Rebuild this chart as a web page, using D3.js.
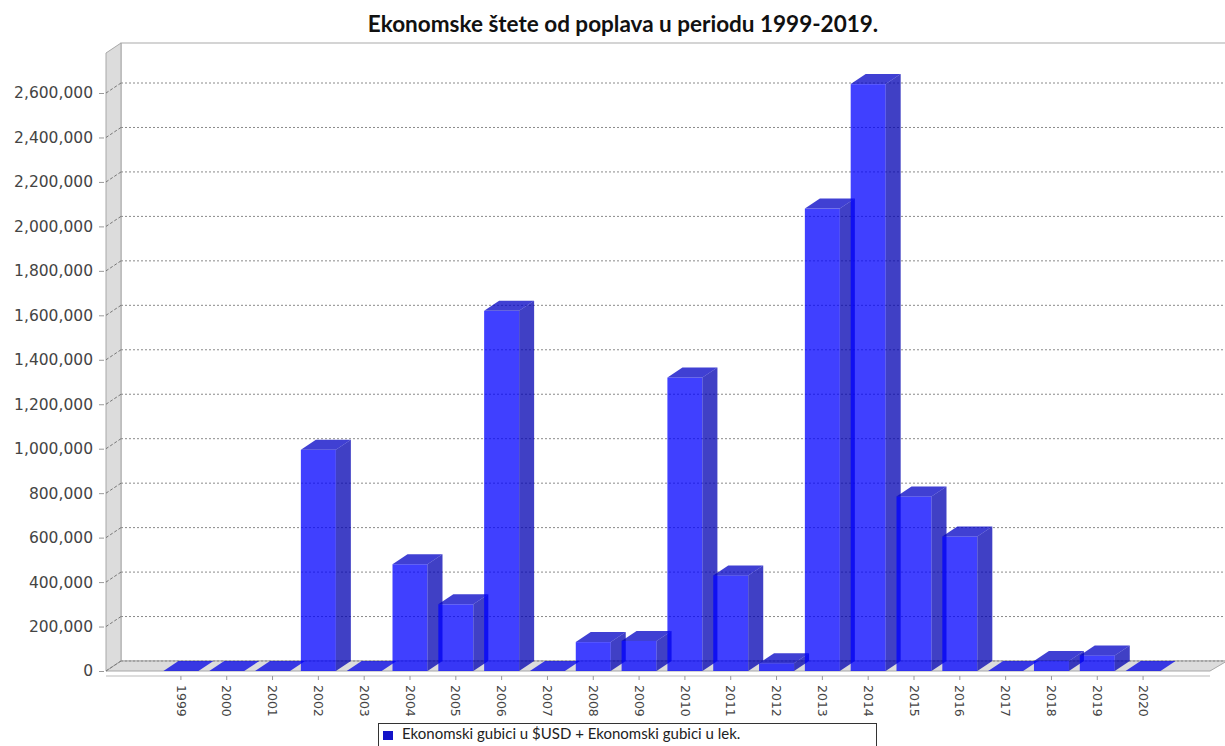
<!DOCTYPE html>
<html>
<head>
<meta charset="utf-8">
<script src="https://cdn.jsdelivr.net/npm/d3@7"></script>
<style>
  body { margin: 0; background: #fff; }
  svg { display: block; }
</style>
</head>
<body>
<svg id="chart" width="1225" height="746"></svg>
<script>
// data
const years = ['1999', '2000', '2001', '2002', '2003', '2004', '2005', '2006', '2007', '2008', '2009',
  '2010', '2011', '2012', '2013', '2014', '2015', '2016', '2017', '2018', '2019', '2020'];
const losses = [0, 0, 0, 995000, 0, 480000, 300000, 1620000, 0, 130000, 135000,
  1320000, 430000, 35000, 2080000, 2640000, 785000, 605000, 0, 45000, 70000, 0];
const yTicks = [0, 200000, 400000, 600000, 800000, 1000000, 1200000, 1400000, 1600000,
  1800000, 2000000, 2200000, 2400000, 2600000];
const titleText = 'Ekonomske štete od poplava u periodu 1999-2019.';
const legendText = 'Ekonomski gubici u $USD + Ekonomski gubici u lek.';

const svg = d3.select('#chart');
const width = 1225;

// 3d offsets of the plot walls and bars
const dx = 15, dy = 10;
const left = 106, right = 1210;

const x = d3.scaleBand()
  .domain(years)
  .range([158, 1166])
  .paddingInner(0.236)
  .paddingOuter(0.118);

const y = d3.scaleLinear()
  .domain([0, 2780000])
  .range([671, 53]);

const y0 = y(0);
const yTop = y(y.domain()[1]);

// title
svg.append('text')
  .attr('x', 623)
  .attr('y', 32)
  .attr('text-anchor', 'middle')
  .style('font-family', 'Lato, "Open Sans", sans-serif')
  .style('font-weight', 'bold')
  .style('font-size', '22.5px')
  .style('fill', '#111')
  .text(titleText);

// back wall
svg.append('rect')
  .attr('x', left + dx).attr('y', yTop - dy)
  .attr('width', width - left - dx + 2).attr('height', y0 - yTop)
  .attr('fill', '#fff')
  .attr('stroke', '#aaa');

// left wall
svg.append('polygon')
  .attr('points', [[left, yTop], [left + dx, yTop - dy], [left + dx, y0 - dy], [left, y0]].join(' '))
  .attr('fill', '#dcdcdc')
  .attr('stroke', '#a8a8a8');

// floor
svg.append('polygon')
  .attr('points', [[left, y0], [left + dx, y0 - dy], [width + 2, y0 - dy], [right, y0]].join(' '))
  .attr('fill', '#dcdcdc')
  .attr('stroke', '#a8a8a8');

// gridlines on back wall + diagonal on the left wall
const grid = svg.append('g');
grid.selectAll('.grid')
  .data(yTicks)
  .join('line')
  .attr('class', 'grid')
  .attr('x1', left + dx).attr('x2', width)
  .attr('y1', d => y(d) - dy).attr('y2', d => y(d) - dy)
  .attr('stroke', '#8a8a8a')
  .attr('stroke-width', 1)
  .attr('stroke-dasharray', '2,2');
grid.selectAll('.diag')
  .data(yTicks)
  .join('line')
  .attr('class', 'diag')
  .attr('x1', left).attr('x2', left + dx)
  .attr('y1', d => y(d)).attr('y2', d => y(d) - dy)
  .attr('stroke', '#777')
  .attr('stroke-dasharray', '3,2');

// y axis
const yAxis = svg.append('g')
  .attr('transform', `translate(${left - 2},0)`)
  .call(d3.axisLeft(y).tickValues(yTicks).tickFormat(d3.format(',')).tickSize(5).tickPadding(6));
yAxis.select('.domain').remove();
yAxis.selectAll('.tick line').attr('stroke', '#999');
yAxis.selectAll('text')
  .style('font-family', '"DejaVu Sans", sans-serif')
  .style('font-size', '15.5px')
  .style('fill', '#444');

// x axis
svg.append('line')
  .attr('x1', left).attr('x2', right)
  .attr('y1', y0 + 5).attr('y2', y0 + 5)
  .attr('stroke', '#bbb');
const xAxis = svg.append('g')
  .attr('transform', `translate(0,${y0 + 5})`)
  .call(d3.axisBottom(x).tickSize(4));
xAxis.select('.domain').remove();
xAxis.selectAll('.tick line').attr('stroke', '#999');
xAxis.selectAll('text')
  .attr('transform', 'rotate(90)')
  .attr('x', 9)
  .attr('y', 0)
  .attr('dy', '0.35em')
  .style('text-anchor', 'start')
  .style('font-family', '"DejaVu Sans", sans-serif')
  .style('font-size', '12.5px')
  .style('fill', '#444');

// bars (semi transparent, like the original renderer)
const bw = x.bandwidth();
const bars = svg.append('g')
  .selectAll('.bar')
  .data(years.map((yr, i) => ({ yr, v: losses[i] })))
  .join('g')
  .attr('class', 'bar')
  .attr('fill-opacity', 0.75);

bars.append('rect')
  .attr('x', d => x(d.yr))
  .attr('y', d => y(d.v))
  .attr('width', bw)
  .attr('height', d => y0 - y(d.v))
  .attr('fill', '#0000ff');

bars.append('polygon')
  .attr('points', d => {
    const xr = x(d.yr) + bw, yt = y(d.v);
    return [[xr, y0], [xr, yt], [xr + dx, yt - dy], [xr + dx, y0 - dy]].join(' ');
  })
  .attr('fill', '#0000b2');

bars.append('polygon')
  .attr('points', d => {
    const xl = x(d.yr), xr = xl + bw, yt = y(d.v);
    return [[xl, yt], [xl + dx, yt - dy], [xr + dx, yt - dy], [xr, yt]].join(' ');
  })
  .attr('fill', d => d.v === 0 ? '#0000e6' : '#0000c4');

// legend
const legend = svg.append('g');
legend.append('rect')
  .attr('x', 378.5).attr('y', 723.5)
  .attr('width', 498).attr('height', 40)
  .attr('fill', '#fff')
  .attr('stroke', '#333');
legend.append('rect')
  .attr('x', 383).attr('y', 731)
  .attr('width', 10).attr('height', 9)
  .attr('fill', '#1414c8');
legend.append('text')
  .attr('x', 402).attr('y', 739)
  .style('font-family', 'Lato, "Open Sans", sans-serif')
  .style('font-size', '15px')
  .style('fill', '#222')
  .text(legendText);
</script>
</body>
</html>
